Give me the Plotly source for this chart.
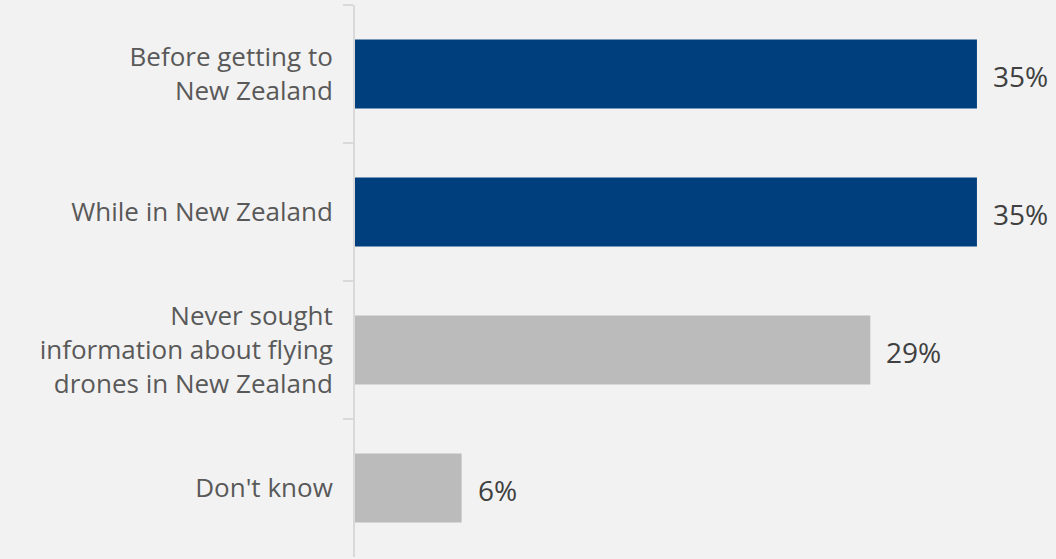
import plotly.graph_objects as go

categories = ["Before getting to<br>New Zealand", "While in New Zealand",
              "Never sought<br>information about flying<br>drones in New Zealand", "Don't know"]
values = [35, 35, 29, 6]
colors = ["#003f7d", "#003f7d", "#bbbbbb", "#bbbbbb"]
labels = [f"{v}%" for v in values]

fig = go.Figure(go.Bar(
    y=categories, x=values, orientation="h",
    marker=dict(color=colors, line=dict(width=0)),
    width=0.5, hoverinfo="skip",
))

# value labels
for c, v, t in zip(categories, values, labels):
    fig.add_annotation(x=v, y=c, text=t, xanchor="left", yanchor="middle",
                       xshift=14, yshift=-2, showarrow=False,
                       font=dict(family="Open Sans", size=28, color="#404040"))

fig.update_layout(
    width=1056, height=559,
    margin=dict(l=355, r=0, t=5, b=2),
    paper_bgcolor="#f2f2f2", plot_bgcolor="#f2f2f2",
    showlegend=False,
    xaxis=dict(range=[0, 39.45], visible=False, fixedrange=True),
    yaxis=dict(autorange="reversed", showline=True, linecolor="#d9d9d9", linewidth=2,
               ticks="outside", tickson="boundaries", ticklen=10, tickcolor="#d9d9d9",
               tickwidth=2, ticklabelstandoff=15, showgrid=False, fixedrange=True,
               tickfont=dict(family="Open Sans", size=26, color="#595959")),
)

fig.write_html("out.html", config={"displayModeBar": False},
               post_script="document.body.style.margin='0';document.body.style.background='#f2f2f2';")
